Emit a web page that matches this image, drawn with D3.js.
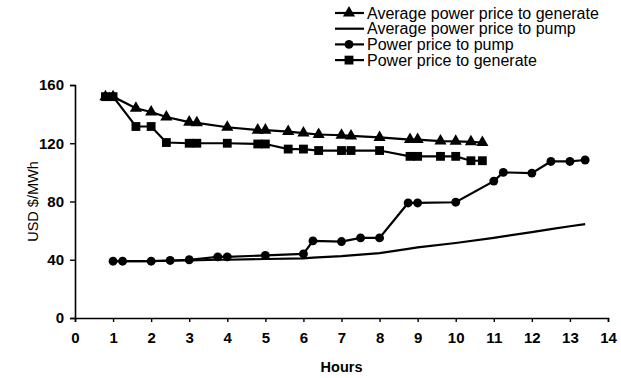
<!DOCTYPE html>
<html>
<head>
<meta charset="utf-8">
<script src="https://cdn.jsdelivr.net/npm/d3@7/dist/d3.min.js"></script>
<style>
  html, body { margin: 0; padding: 0; background: #fff; }
  svg { display: block; }
  text { font-family: Arial, "Liberation Sans", sans-serif; fill: #000; }
</style>
</head>
<body>
<svg id="chart" width="621" height="378"></svg>
<script>
// Hours at which the generation prices were recorded
const genHours = [0.8, 1.0, 1.6, 2.0, 2.4, 3.0, 3.2, 4.0, 4.8, 5.0, 5.6, 6.0, 6.4, 7.0, 7.25, 8.0, 8.8, 9.0, 9.6, 10.0, 10.4, 10.7];
const avgGenerate = [152, 152, 144, 141.5, 138, 134.5, 134, 131, 129, 129, 128, 127, 126, 125.5, 125, 124, 122.5, 122.5, 121.5, 121.3, 121, 120.5];
const priceGenerate = [152, 152, 131.5, 131.5, 120.5, 120, 120, 120, 119.5, 119.5, 116, 116, 115, 115, 115, 115, 111, 111, 111, 111, 108, 108];

// Hours at which the pumping prices were recorded
const pumpHours = [1, 1.25, 2, 2.5, 3, 3.75, 4, 5, 6, 6.25, 7, 7.5, 8, 8.75, 9, 10, 11, 11.25, 12, 12.5, 13, 13.4];
const pricePump = [39, 39, 39, 39.5, 40, 42, 42, 43, 44, 53, 52.5, 55, 55, 79, 79, 79.5, 94, 100, 99.5, 107.5, 107.5, 108.5];
const avgPump = [39, 39, 39, 39.3, 39.5, 40, 40, 40.5, 41, 41.5, 42.5, 43.5, 44.5, 47.5, 48.5, 51.5, 55, 56, 59, 61, 63, 64.5];

const xTicks = d3.range(0, 15, 1);
const yTicks = [0, 40, 80, 120, 160];

const seriesNames = [
  "Average power price to generate",
  "Average power price to pump",
  "Power price to pump",
  "Power price to generate"
];

const svg = d3.select("#chart");
const x = d3.scaleLinear().domain([0, 14]).range([75, 608]);
const y = d3.scaleLinear().domain([0, 160]).range([318, 85]);

// Axes
const xAxis = svg.append("g").attr("transform", `translate(0,${y(0)})`)
  .call(d3.axisBottom(x).tickValues(xTicks).tickSize(4).tickPadding(10).tickFormat(d3.format("d")));
const yAxis = svg.append("g").attr("transform", `translate(${x(0)},0)`)
  .call(d3.axisLeft(y).tickValues(yTicks).tickSize(5).tickPadding(6).tickFormat(d3.format("d")));
[xAxis, yAxis].forEach(g => {
  g.select(".domain").attr("stroke", "#000").attr("stroke-width", 1.6);
  g.selectAll(".tick line").attr("stroke", "#000").attr("stroke-width", 1.4);
  g.selectAll(".tick text").style("font-size", "15px").style("font-weight", "bold")
    .style("font-family", "Arial, 'Liberation Sans', sans-serif").attr("fill", "#000");
});

svg.append("text").attr("x", x(7)).attr("y", 372).attr("text-anchor", "middle")
  .style("font-size", "14.5px").style("font-weight", "bold").text("Hours");
svg.append("text").attr("transform", `translate(38,${y(80)}) rotate(-90)`)
  .attr("text-anchor", "middle").style("font-size", "14.5px").text("USD $/MWh");

// Marker drawing helpers
const triangle = d3.symbol().type(d3.symbolTriangle).size(64);
const square = d3.symbol().type(d3.symbolSquare).size(78);
const circle = d3.symbol().type(d3.symbolCircle).size(62);

function drawSeries(hours, values, sym) {
  const pts = hours.map((h, i) => [h, values[i]]);
  svg.append("path").datum(pts)
    .attr("fill", "none").attr("stroke", "#000").attr("stroke-width", 2.2)
    .attr("d", d3.line().x(d => x(d[0])).y(d => y(d[1])));
  if (sym) {
    svg.append("g").selectAll("path").data(pts).join("path")
      .attr("d", sym).attr("fill", "#000")
      .attr("transform", d => `translate(${x(d[0])},${y(d[1])})`);
  }
}

drawSeries(pumpHours, avgPump, null);
drawSeries(pumpHours, pricePump, circle);
drawSeries(genHours, avgGenerate, triangle);
drawSeries(genHours, priceGenerate, square);

// Legend
const legendSyms = [triangle, null, circle, square];
const legend = svg.append("g");
seriesNames.forEach((name, i) => {
  const ly = 13 + i * 15.7;
  legend.append("line").attr("x1", 335).attr("x2", 364).attr("y1", ly).attr("y2", ly)
    .attr("stroke", "#000").attr("stroke-width", 2.2);
  if (legendSyms[i]) {
    legend.append("path").attr("d", legendSyms[i]).attr("fill", "#000")
      .attr("transform", `translate(349,${ly})`);
  }
  legend.append("text").attr("x", 367).attr("y", ly + 5.5).style("font-size", "16px").text(name);
});
</script>
</body>
</html>
